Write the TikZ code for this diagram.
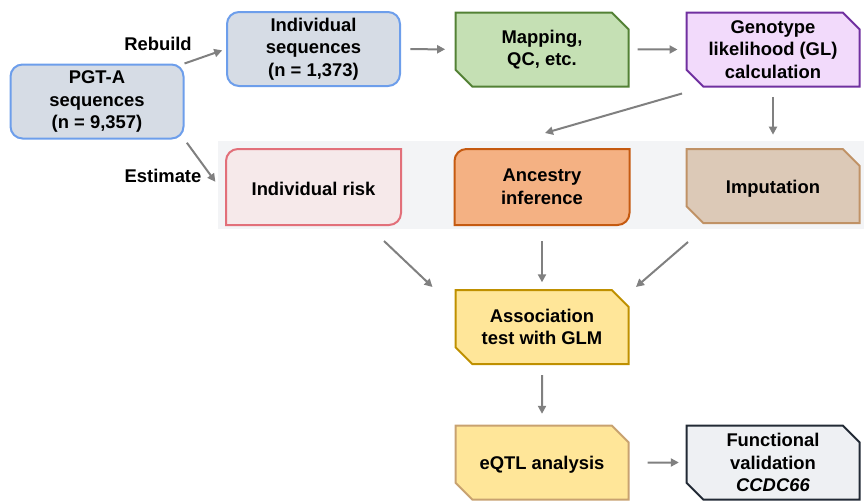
\documentclass[tikz,border=0pt]{standalone}
\usepackage{fontspec}
\setmainfont{Liberation Sans}
\usetikzlibrary{arrows.meta,shapes.misc,backgrounds}
% colours
\definecolor{seqfill}{RGB}{214,220,229}
\definecolor{seqline}{RGB}{109,158,235}
\definecolor{mapfill}{RGB}{197,224,180}
\definecolor{mapline}{RGB}{83,129,53}
\definecolor{glfill}{RGB}{242,218,251}
\definecolor{glline}{RGB}{112,48,160}
\definecolor{riskfill}{RGB}{246,233,234}
\definecolor{riskline}{RGB}{226,112,122}
\definecolor{ancfill}{RGB}{244,177,131}
\definecolor{ancline}{RGB}{197,90,17}
\definecolor{impfill}{RGB}{220,201,183}
\definecolor{impline}{RGB}{192,146,102}
\definecolor{assocfill}{RGB}{255,230,153}
\definecolor{assocline}{RGB}{191,144,0}
\definecolor{eqtlline}{RGB}{200,162,112}
\definecolor{funcfill}{RGB}{238,240,243}
\definecolor{funcline}{RGB}{34,42,53}
\definecolor{bandgray}{RGB}{243,244,246}
\definecolor{arrowgray}{RGB}{128,128,128}
\tikzset{
  box/.style={minimum width=129.75pt, minimum height=55.5pt, inner sep=2pt, align=center,
    execute at begin node={\rule{0pt}{13.5pt}}, line width=1.5pt,
    font=\bfseries\fontsize{13.8}{16.9}\selectfont},
  roundbox/.style={box, rounded corners=9pt, draw=seqline, fill=seqfill},
  snipbox/.style={box, chamfered rectangle, chamfered rectangle corners={north east,south west},
    chamfered rectangle xsep=9pt},
  flow/.style={draw=arrowgray, line width=1.5pt, -{Triangle[length=6pt,width=6pt]}},
  lbl/.style={font=\bfseries\fontsize{13.8}{16.9}\selectfont}
}
\begin{document}
\begin{tikzpicture}[x=0.75pt,y=-0.75pt]
    \useasboundingbox (0,0) rectangle (864,500);
    % top row
    \node[roundbox] (pgt) at (97,101.5) {PGT-A\\sequences\\(n = 9,357)};
    \node[roundbox] (seq) at (313.5,49) {Individual\\sequences\\(n = 1,373)};
    \node[snipbox, draw=mapline, fill=mapfill] (map) at (542,49.5) {Mapping,\\QC, etc.};
    \node[snipbox, draw=glline, fill=glfill] (gl) at (773,49.5) {Genotype\\likelihood (GL)\\calculation};

    % middle row
    \node[box] (risk) at (313.5,187) {Individual risk};
    \node[box] (anc) at (542,187) {Ancestry\\inference};
    \node[snipbox, draw=impline, fill=impfill] (imp) at (773,186) {Imputation};

    % bottom
    \node[snipbox, draw=assocline, fill=assocfill] (assoc) at (542,327) {Association\\test with GLM};
    \node[snipbox, draw=eqtlline, fill=assocfill] (eqtl) at (542,462.5) {eQTL analysis};
    \node[snipbox, draw=funcline, fill=funcfill] (func) at (773,462.5) {Functional\\validation\\\textit{CCDC66}};

    % labels
    \node[lbl] (rebuild) at (158,44) {Rebuild};
    \node[lbl] (estimate) at (163,176) {Estimate};

    % grey band and boxes with two round corners
    \begin{pgfonlayer}{background}
    \node[fill=bandgray, minimum width=484.5pt, minimum height=66pt, inner sep=0pt] (panel) at (541,185) {};
    \foreach \n/\c/\f in {risk/riskline/riskfill, anc/ancline/ancfill}
      \filldraw[draw=\c, fill=\f, line width=1.5pt] (\n.south west) -- ([yshift=-9pt]\n.north west)
        arc[start angle=180, end angle=90, radius=9pt] -- (\n.north east) -- ([yshift=9pt]\n.south east)
        arc[start angle=0, end angle=-90, radius=9pt] -- cycle;
    \end{pgfonlayer}

    % arrows
    \draw[flow, shorten >=3pt] (pgt.north east) -- (seq.west);
    \draw[flow, shorten <=3pt, shorten >=3pt] (pgt.south east) -- (panel.west);
    \draw[flow, shorten <=7pt, shorten >=7pt] (seq) -- (map);
    \draw[flow, shorten <=6pt, shorten >=6pt] (map) -- (gl);
    \draw[flow] ([shift={(-91,6)}]gl.south) -- ([shift={(3,-16)}]anc.north);
    \draw[flow, shorten <=7pt, shorten >=10pt] (gl.south) -- (imp.north);
    \draw[flow] ([shift={(-17,16)}]risk.south east) -- ([shift={(-22,-2)}]assoc.north west);
    \draw[flow, shorten <=12pt, shorten >=5pt] (anc.south) -- (assoc.north);
    \draw[flow] ([shift={(-85,18)}]imp.south) -- ([shift={(94,-2)}]assoc.north);
    \draw[flow, shorten <=7.5pt, shorten >=8pt] (assoc) -- (eqtl);
    \draw[flow, shorten <=13.5pt, shorten >=5pt] (eqtl) -- (func);
\end{tikzpicture}
\end{document}
